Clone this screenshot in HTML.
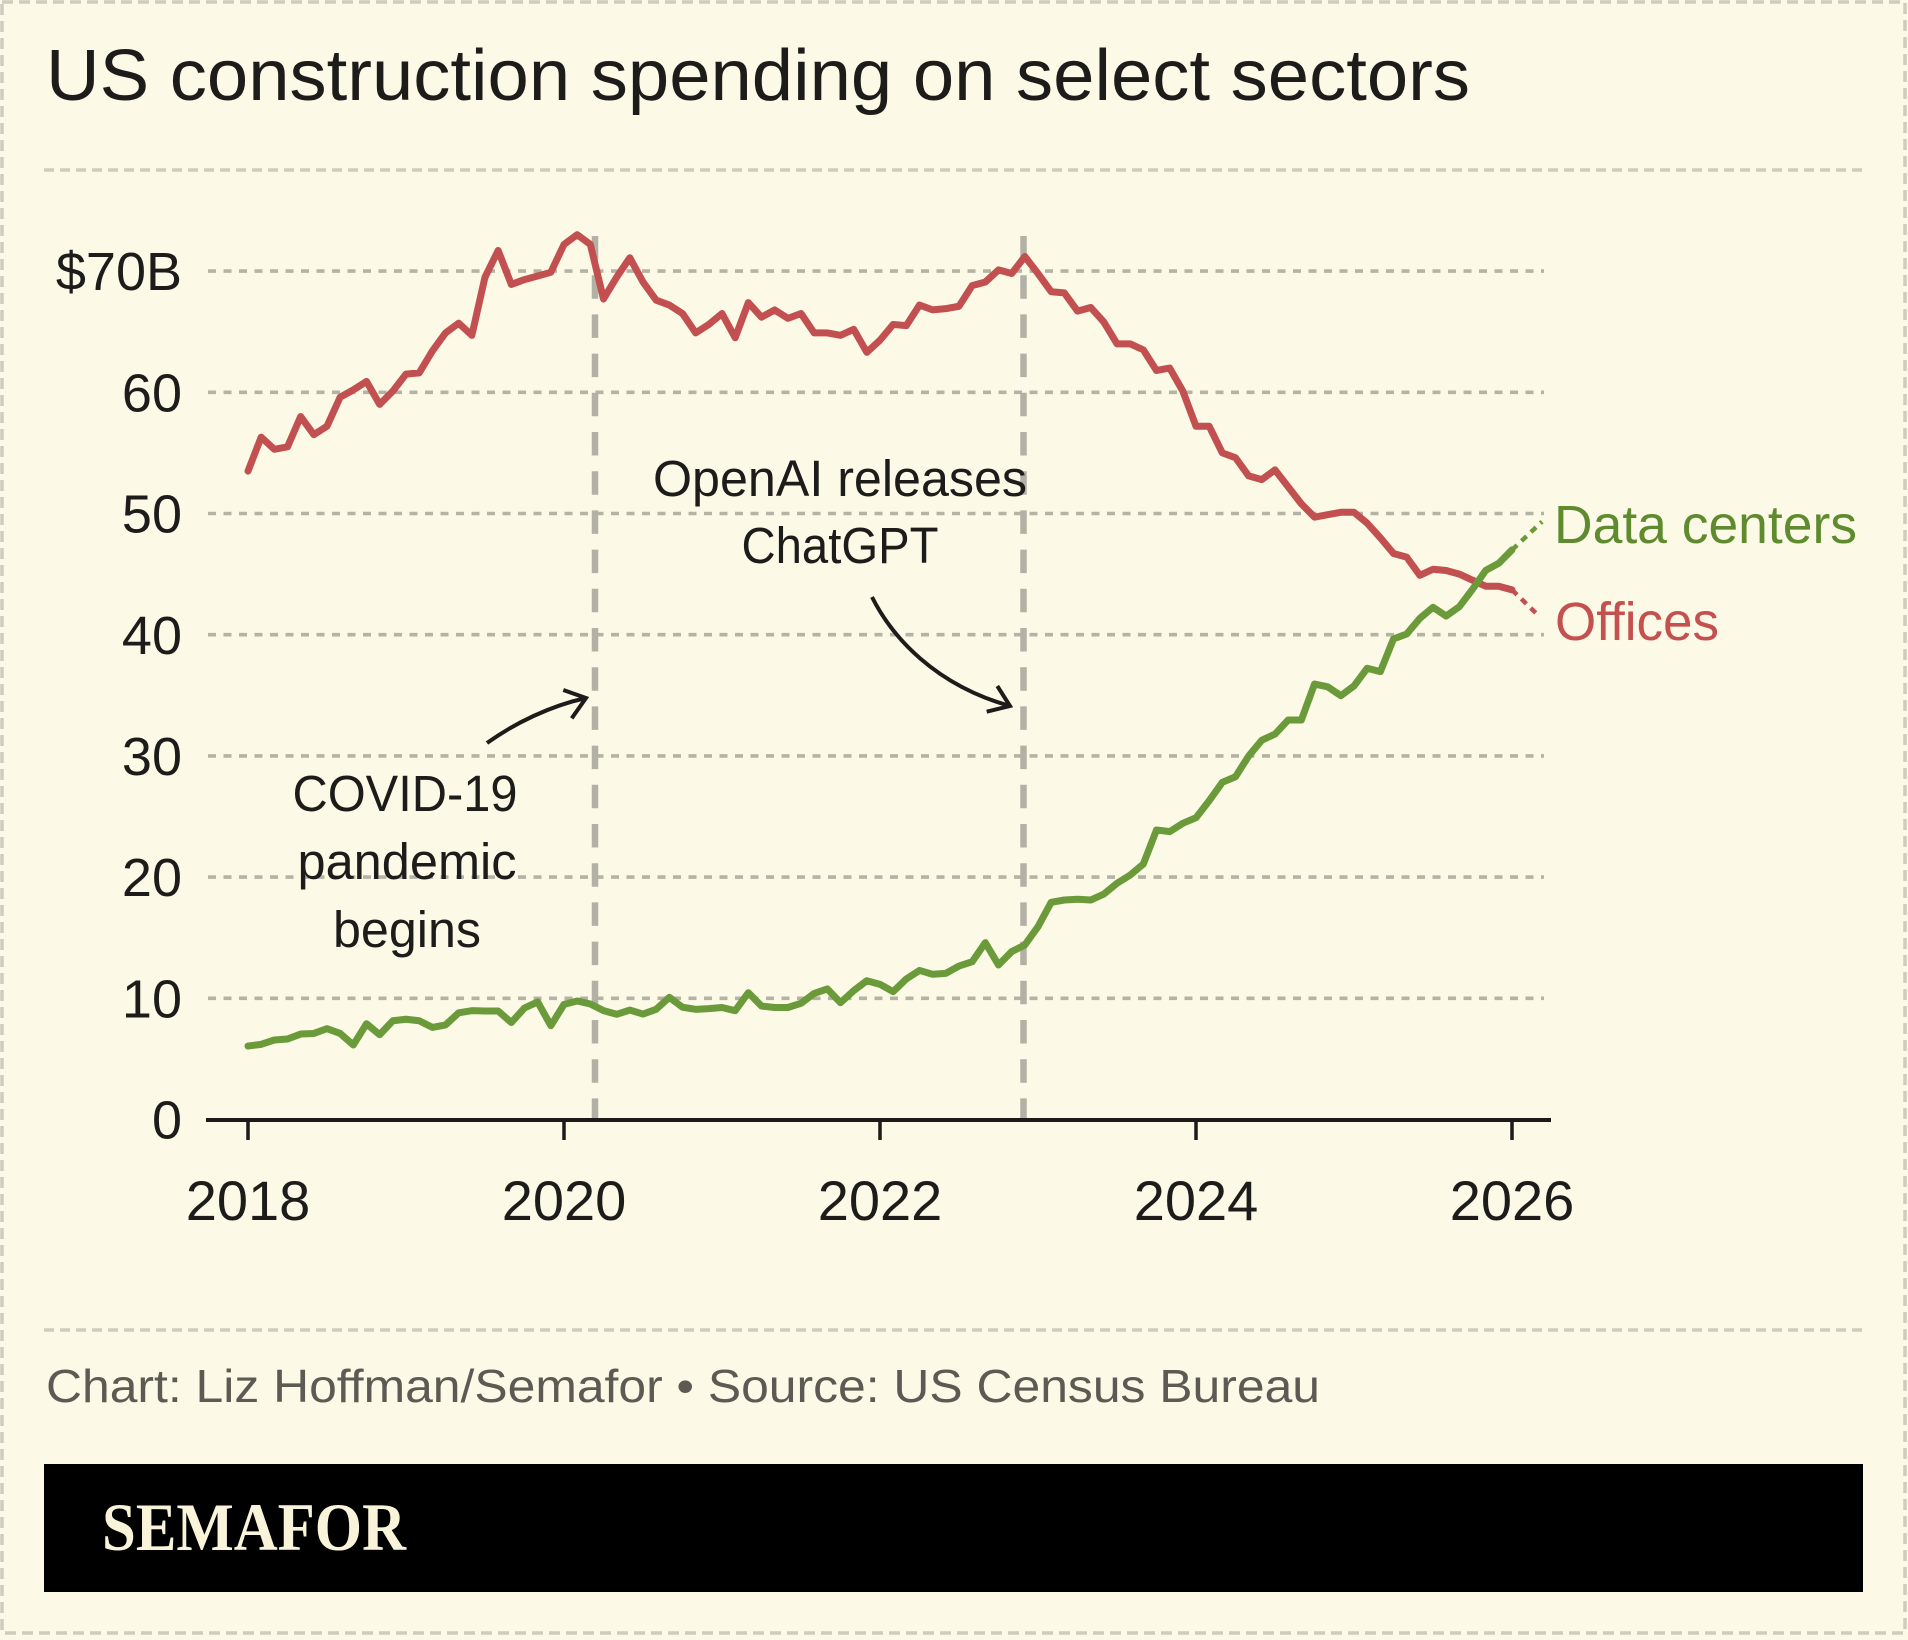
<!DOCTYPE html>
<html>
<head>
<meta charset="utf-8">
<style>
  html, body { margin:0; padding:0; background:#fcf9e6; }
  svg { display:block; }
  .sans { font-family: "Liberation Sans", "DejaVu Sans", sans-serif; }
  .serif { font-family: "Liberation Serif", "DejaVu Serif", serif; font-weight: bold; }
</style>
</head>
<body>
<svg width="1908" height="1640" viewBox="0 0 1908 1640" xmlns="http://www.w3.org/2000/svg">
  <rect x="0" y="0" width="1908" height="1640" fill="#fcf9e6"/>
  <!-- outer dashed border -->
  <rect x="2" y="2" width="1903" height="1631" fill="none" stroke="#cfccbf" stroke-width="3.5" stroke-dasharray="11 6"/>

  <!-- title -->
  <text class="sans" x="46" y="100" font-size="72" fill="#1d1c1a" textLength="1424" lengthAdjust="spacingAndGlyphs">US construction spending on select sectors</text>

  <!-- separators -->
  <line x1="44" y1="170" x2="1862" y2="170" stroke="#cfccbf" stroke-width="3.5" stroke-dasharray="10 6"/>
  <line x1="44" y1="1330" x2="1862" y2="1330" stroke="#cfccbf" stroke-width="3.5" stroke-dasharray="10 6"/>

  <!-- gridlines -->
  <g stroke="#b5b3a5" stroke-width="3.6" stroke-dasharray="8 7.5">
    <line x1="208" y1="998.3" x2="1544" y2="998.3"/>
    <line x1="208" y1="877.1" x2="1544" y2="877.1"/>
    <line x1="208" y1="755.9" x2="1544" y2="755.9"/>
    <line x1="208" y1="634.7" x2="1544" y2="634.7"/>
    <line x1="208" y1="513.5" x2="1544" y2="513.5"/>
    <line x1="208" y1="392.3" x2="1544" y2="392.3"/>
    <line x1="208" y1="271.1" x2="1544" y2="271.1"/>
  </g>

  <!-- y labels -->
  <g class="sans" font-size="54" fill="#1d1c1a" text-anchor="end">
    <text x="182" y="290">$70B</text>
    <text x="182" y="411.5">60</text>
    <text x="182" y="532.5">50</text>
    <text x="182" y="654">40</text>
    <text x="182" y="775">30</text>
    <text x="182" y="896">20</text>
    <text x="182" y="1017.5">10</text>
    <text x="182" y="1138.5">0</text>
  </g>

  <!-- vertical event lines -->
  <g stroke="#b3b1a6" stroke-width="6.5" stroke-dasharray="23.5 15.7">
    <line x1="595" y1="236" x2="595" y2="1120"/>
    <line x1="1023.5" y1="236" x2="1023.5" y2="1120"/>
  </g>

  <!-- axis -->
  <line x1="206" y1="1120" x2="1551" y2="1120" stroke="#1c1b17" stroke-width="4"/>
  <g stroke="#1c1b17" stroke-width="3.5">
    <line x1="248" y1="1120" x2="248" y2="1140"/>
    <line x1="564" y1="1120" x2="564" y2="1140"/>
    <line x1="880" y1="1120" x2="880" y2="1140"/>
    <line x1="1196" y1="1120" x2="1196" y2="1140"/>
    <line x1="1512" y1="1120" x2="1512" y2="1140"/>
  </g>
  <g class="sans" font-size="56" fill="#1d1c1a" text-anchor="middle">
    <text x="248" y="1220">2018</text>
    <text x="564" y="1220">2020</text>
    <text x="880" y="1220">2022</text>
    <text x="1196" y="1220">2024</text>
    <text x="1512" y="1220">2026</text>
  </g>

  <!-- series -->
  <g transform="translate(248 1119.5) scale(13.1667 -12.12)" fill="none" stroke-linejoin="round" stroke-linecap="round">
    <polyline vector-effect="non-scaling-stroke" stroke="#c25050" stroke-width="7" points="0,53.5 1,56.3 2,55.3 3,55.5 4,58.0 5,56.5 6,57.2 7,59.6 8,60.2 9,60.9 10,59.0 11,60.1 12,61.5 13,61.6 14,63.4 15,64.9 16,65.7 17,64.7 18,69.5 19,71.7 20,68.9 21,69.3 22,69.6 23,69.9 24,72.2 25,73.0 26,72.2 27,67.7 28,69.5 29,71.1 30,69.1 31,67.6 32,67.2 33,66.5 34,64.9 35,65.6 36,66.5 37,64.5 38,67.4 39,66.2 40,66.8 41,66.1 42,66.5 43,64.9 44,64.9 45,64.7 46,65.2 47,63.3 48,64.3 49,65.6 50,65.5 51,67.2 52,66.8 53,66.9 54,67.1 55,68.8 56,69.1 57,70.1 58,69.8 59,71.2 60,69.8 61,68.3 62,68.2 63,66.7 64,67.0 65,65.8 66,64.0 67,64.0 68,63.5 69,61.8 70,62.0 71,60.1 72,57.2 73,57.2 74,55.0 75,54.6 76,53.1 77,52.8 78,53.6 79,52.2 80,50.8 81,49.7 82,49.9 83,50.1 84,50.1 85,49.2 86,48.0 87,46.7 88,46.4 89,44.9 90,45.4 91,45.3 92,45.0 93,44.5 94,44.0 95,44.0 96,43.7"/>
    <polyline vector-effect="non-scaling-stroke" stroke="#6a9a3a" stroke-width="7" points="0,6.06 1,6.2 2,6.56 3,6.64 4,7.05 5,7.1 6,7.5 7,7.1 8,6.15 9,7.9 10,7.0 11,8.15 12,8.27 13,8.15 14,7.6 15,7.8 16,8.8 17,8.98 18,8.95 19,8.95 20,8.0 21,9.2 22,9.7 23,7.74 24,9.5 25,9.78 26,9.53 27,8.98 28,8.68 29,9.03 30,8.7 31,9.09 32,10.08 33,9.26 34,9.09 35,9.15 36,9.24 37,8.98 38,10.46 39,9.36 40,9.24 41,9.24 42,9.59 43,10.4 44,10.77 45,9.64 46,10.63 47,11.45 48,11.15 49,10.55 50,11.6 51,12.3 52,11.98 53,12.06 54,12.66 55,13.02 56,14.59 57,12.75 58,13.85 59,14.4 60,15.91 61,17.92 62,18.11 63,18.17 64,18.11 65,18.6 66,19.49 67,20.17 68,21.08 69,23.89 70,23.75 71,24.44 72,24.9 73,26.3 74,27.82 75,28.28 76,29.99 77,31.3 78,31.8 79,32.96 80,32.96 81,35.93 82,35.7 83,34.97 84,35.77 85,37.23 86,36.95 87,39.65 88,40.06 89,41.35 90,42.26 91,41.54 92,42.31 93,43.75 94,45.3 95,45.9 96,47.0"/>
  </g>

  <!-- dotted extensions -->
  <line x1="1512" y1="589.9" x2="1540" y2="617" stroke="#c25050" stroke-width="4.5" stroke-dasharray="7 6"/>
  <line x1="1512" y1="549.9" x2="1542" y2="521.7" stroke="#6a9a3a" stroke-width="4.5" stroke-dasharray="7 6"/>

  <!-- series labels -->
  <text class="sans" x="1554" y="543" font-size="54" fill="#5d8b2d" textLength="303" lengthAdjust="spacingAndGlyphs">Data centers</text>
  <text class="sans" x="1555" y="640" font-size="54" fill="#c4504f" textLength="164" lengthAdjust="spacingAndGlyphs">Offices</text>

  <!-- annotations -->
  <g class="sans" font-size="51" fill="#1d1c1a" text-anchor="middle">
    <text x="840" y="496" textLength="374" lengthAdjust="spacingAndGlyphs">OpenAI releases</text>
    <text x="840" y="563" textLength="197" lengthAdjust="spacingAndGlyphs">ChatGPT</text>
    <text x="405" y="811" textLength="225" lengthAdjust="spacingAndGlyphs">COVID-19</text>
    <text x="407" y="879" textLength="219" lengthAdjust="spacingAndGlyphs">pandemic</text>
    <text x="407" y="947" textLength="148" lengthAdjust="spacingAndGlyphs">begins</text>
  </g>

  <!-- arrows -->
  <g fill="none" stroke="#1d1c1a" stroke-width="4" stroke-linecap="butt" stroke-linejoin="miter">
    <path d="M872,597 C892,637 935,685 1010,706"/>
    <polyline points="986.7,711.7 1010,706 997.3,686"/>
    <path d="M487,743 C515,723 550,706 586,698"/>
    <polyline points="563.3,690 586,698 571.7,718.3"/>
  </g>

  <!-- footer -->
  <text class="sans" x="46" y="1402" font-size="46" fill="#5c5a52" textLength="1274" lengthAdjust="spacingAndGlyphs">Chart: Liz Hoffman/Semafor • Source: US Census Bureau</text>

  <rect x="44" y="1464" width="1819" height="128" fill="#000000"/>
  <text class="serif" x="102" y="1550" font-size="68" fill="#f9f4d9" textLength="304" lengthAdjust="spacingAndGlyphs">SEMAFOR</text>
</svg>
</body>
</html>
